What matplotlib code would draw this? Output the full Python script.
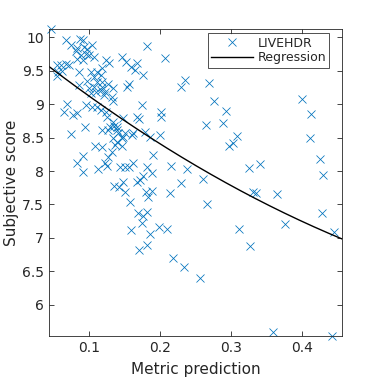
import numpy as np
import matplotlib
matplotlib.use("Agg")
import matplotlib.pyplot as plt
from matplotlib.ticker import FuncFormatter

# --- data ---
metric = [
    0.046, 0.067, 0.0737, 0.0869, 0.0915, 0.0831, 0.0808, 0.0925, 0.0972, 0.1042,
    0.0879, 0.0949, 0.0996, 0.1066, 0.0831, 0.0915, 0.054, 0.0596, 0.0667, 0.0713,
    0.0558, 0.0619, 0.0855, 0.102, 0.1113, 0.1066, 0.1161, 0.0972, 0.1113, 0.1184,
    0.1232, 0.0544, 0.1458, 0.1518, 0.1678, 0.1585, 0.1645, 0.1754, 0.1282, 0.1175,
    0.1268, 0.1537, 0.1565, 0.0855, 0.0996, 0.1066, 0.102, 0.109, 0.1161, 0.1208,
    0.1175, 0.1339, 0.1316, 0.1222, 0.0689, 0.0643, 0.0822, 0.0774, 0.0949, 0.1042,
    0.1113, 0.1161, 0.1232, 0.1246, 0.174, 0.148, 0.167, 0.1706, 0.2006, 0.2013,
    0.1339, 0.1387, 0.1292, 0.0939, 0.0737, 0.1186, 0.1257, 0.1349, 0.1395, 0.141,
    0.1458, 0.1504, 0.1599, 0.1621, 0.1787, 0.1857, 0.1999, 0.1339, 0.1387, 0.148,
    0.1081, 0.1175, 0.1363, 0.1458, 0.1316, 0.1268, 0.0915, 0.0822, 0.0915, 0.1127,
    0.1222, 0.1246, 0.1434, 0.1504, 0.1565, 0.1621, 0.1819, 0.1881, 0.1763, 0.1716,
    0.1669, 0.1904, 0.214, 0.1349, 0.1424, 0.148, 0.1504, 0.1575, 0.1801, 0.1881,
    0.1833, 0.1692, 0.1754, 0.1819, 0.174, 0.1585, 0.1857, 0.1989, 0.2093, 0.1706,
    0.1819, 0.2069, 0.1811, 0.2352, 0.2291, 0.2695, 0.2766, 0.2931, 0.2893, 0.2648,
    0.3082, 0.3034, 0.2977, 0.215, 0.2376, 0.2602, 0.2291, 0.326, 0.3411, 0.3308,
    0.3354, 0.3655, 0.2658, 0.3119, 0.327, 0.2178, 0.2342, 0.2564, 0.4008, 0.4131,
    0.4117, 0.4259, 0.4305, 0.4291, 0.3764, 0.446, 0.359, 0.4424, 0.1336,
]
subjective = [
    10.12, 9.951, 9.876, 9.966, 9.951, 9.836, 9.787, 9.851, 9.825, 9.876,
    9.736, 9.751, 9.727, 9.701, 9.676, 9.652, 9.587, 9.578, 9.601, 9.578,
    9.478, 9.488, 9.478, 9.478, 9.478, 9.403, 9.428, 9.339, 9.328, 9.328,
    9.652, 9.418, 9.701, 9.627, 9.616, 9.552, 9.503, 9.437, 9.616, 9.537,
    9.303, 9.258, 9.299, 9.284, 9.234, 9.258, 9.160, 9.184, 9.209, 9.134,
    9.258, 9.234, 9.109, 9.184, 9.0, 8.885, 8.861, 8.836, 8.985, 8.960,
    8.960, 8.910, 8.885, 8.810, 8.985, 8.787, 8.810, 8.772, 8.881, 8.802,
    8.736, 8.661, 8.661, 8.661, 8.552, 8.619, 8.612, 8.672, 8.612, 8.563,
    8.488, 8.563, 8.537, 8.563, 8.587, 8.512, 8.545, 8.488, 8.437, 8.503,
    8.381, 8.354, 8.388, 8.373, 8.288, 8.213, 8.224, 8.124, 7.990, 8.025,
    8.115, 8.075, 8.064, 8.055, 8.064, 8.124, 8.064, 7.975, 7.925, 7.866,
    7.840, 8.239, 7.667, 7.776, 7.757, 7.840, 7.691, 7.542, 7.691, 7.706,
    7.617, 7.369, 7.328, 7.393, 7.219, 7.119, 7.060, 7.160, 7.130, 6.821,
    6.896, 9.682, 9.866, 9.358, 9.258, 9.309, 9.049, 8.896, 8.721, 8.687,
    8.522, 8.413, 8.373, 8.075, 8.025, 7.876, 7.825, 8.040, 8.105, 7.691,
    7.667, 7.657, 7.508, 7.139, 6.881, 6.697, 6.572, 6.399, 9.070, 8.851,
    8.488, 8.175, 7.940, 7.378, 7.205, 7.094, 5.593, 5.54, 9.045,
]

# regression curve coefficients (quadratic in metric prediction)
reg_coef = [4.427, -8.437, 9.916]
x_range = [0.0435, 0.4565]

xticks = [0.1, 0.2, 0.3, 0.4]
yticks = [6, 6.5, 7, 7.5, 8, 8.5, 9, 9.5, 10]

blue = (0, 0.447, 0.741)
dark = (0.15, 0.15, 0.15)

plt.rcParams['font.family'] = ['DejaVu Sans']
fig = plt.figure(figsize=(3.78, 3.78), dpi=100)
ax = fig.add_axes([0.1305, 0.112, 0.7735, 0.811])

ax.plot(metric, subjective, linestyle='none', marker='x', markersize=5.6,
        markeredgewidth=0.55, color=blue, label='LIVEHDR', clip_on=False)
xs = np.linspace(x_range[0], x_range[1], 200)
ax.plot(xs, np.polyval(reg_coef, xs), color='black', linewidth=1.0, label='Regression')

ax.set_xlim(x_range)
ax.set_ylim(min(subjective), max(subjective))
ax.set_xticks(xticks)
ax.set_yticks(yticks)
fmt = FuncFormatter(lambda v, p: ('%g' % v))
ax.xaxis.set_major_formatter(fmt)
ax.yaxis.set_major_formatter(fmt)
ax.tick_params(direction='in', length=3.5, width=0.6, colors=dark, labelsize=10,
               top=True, right=True, labelcolor=dark, pad=4)
for s in ax.spines.values():
    s.set_linewidth(0.6)
    s.set_color(dark)

ax.set_xlabel('Metric prediction', fontsize=11, color=dark, labelpad=5)
ax.set_ylabel('Subjective score', fontsize=11, color=dark, labelpad=2)

leg = ax.legend(loc='upper right', bbox_to_anchor=(0.958, 0.986), borderaxespad=0,
                fontsize=9, frameon=True, fancybox=False, handlelength=3.3,
                handletextpad=0.4, borderpad=0.25, labelspacing=0.15)
leg.get_frame().set_edgecolor('black')
leg.get_frame().set_linewidth(0.6)
for t in leg.get_texts():
    t.set_color(dark)

fig.savefig('out.png', dpi=100)
